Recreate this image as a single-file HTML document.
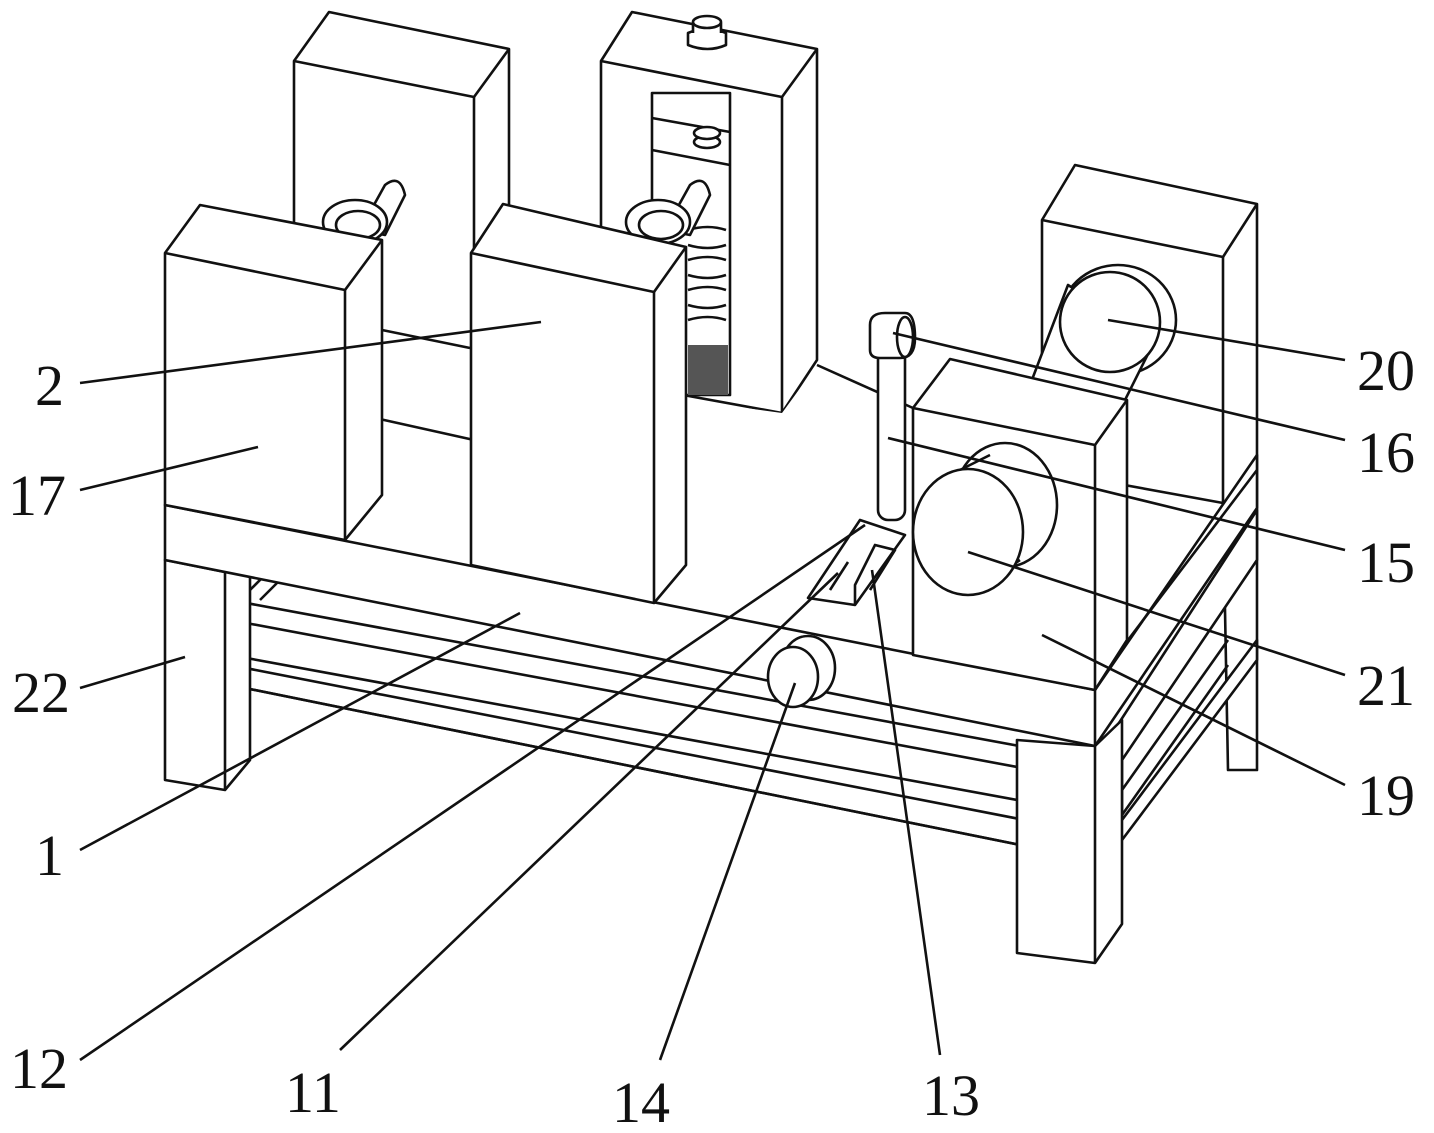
<!DOCTYPE html>
<html><head><meta charset="utf-8"><style>
html,body{margin:0;padding:0;background:#fff}
svg{display:block}
text{font-family:"Liberation Serif",serif;font-size:58px;fill:#111}
</style></head><body>
<svg width="1434" height="1133" viewBox="0 0 1434 1133" xmlns="http://www.w3.org/2000/svg">
<g stroke="#111" stroke-width="2.6" fill="#fff" stroke-linejoin="round">
<!-- back-left block -->
<polygon points="294,61 329,12 509,49 509,400 474,440 294,400"/>
<line x1="294" y1="61" x2="474" y2="97"/><line x1="474" y1="97" x2="509" y2="49"/><line x1="474" y1="97" x2="474" y2="560"/>
<!-- back-right block -->
<polygon points="601,61 632,12 817,49 817,360 782,413 601,380"/>
<line x1="601" y1="61" x2="782" y2="97"/><line x1="782" y1="97" x2="817" y2="49"/><line x1="782" y1="97" x2="782" y2="413"/>
<rect x="652" y="93" width="78" height="302" fill="#fff"/>
<line x1="652" y1="118" x2="730" y2="132"/><line x1="652" y1="150" x2="730" y2="165"/>
<ellipse cx="707" cy="142" rx="13" ry="6"/><ellipse cx="707" cy="133" rx="13" ry="6"/>
<path d="M688,230 q20,-6 38,0 M688,260 q20,-6 38,0 M688,290 q20,-6 38,0 M688,320 q20,-6 38,0 M688,245 q20,6 38,0 M688,275 q20,6 38,0 M688,305 q20,6 38,0" fill="none"/>
<rect x="688" y="345" width="40" height="50" fill="#555" stroke="none"/>
<path d="M688,45 v-12 q18,-8 38,0 v12 q-18,8 -38,0z"/><path d="M693,33 v-10 q15,-8 28,0 v10"/>
<ellipse cx="707" cy="22" rx="14" ry="6"/>
<!-- shafts -->
<path d="M360,230 l25,-45 q15,-12 20,10 l-20,40z"/><ellipse cx="355" cy="222" rx="32" ry="22"/><ellipse cx="358" cy="225" rx="22" ry="14"/>
<path d="M665,230 l25,-45 q15,-12 20,10 l-20,40z"/><ellipse cx="658" cy="222" rx="32" ry="22"/><ellipse cx="661" cy="225" rx="22" ry="14"/>
<!-- block 20 -->
<polygon points="1042,220 1075,165 1257,204 1257,770 1228,770 1223,503 1042,470"/>
<line x1="1042" y1="220" x2="1223" y2="257"/><line x1="1223" y1="257" x2="1257" y2="204"/><line x1="1223" y1="257" x2="1223" y2="503"/>
<ellipse cx="1118" cy="320" rx="58" ry="55"/>
<path d="M1030,385 L1068,285 L1155,340 L1120,410z"/>
<ellipse cx="1110" cy="322" rx="50" ry="50"/>
<!-- frame top surface -->
<polygon points="165,505 345,540 474,560 686,400 782,413 817,365 913,408 1095,445 1095,690" stroke="none"/>
<line x1="817" y1="365" x2="913" y2="408"/>
<!-- stretchers -->
<polygon points="230,600 1095,760 1257,510 1257,560 1122,760 1122,820 1257,640 1257,660 1122,840 1035,822 1035,848 230,685"/>
<line x1="230" y1="620" x2="1017" y2="767"/><line x1="230" y1="655" x2="1017" y2="800"/><line x1="230" y1="665" x2="1035" y2="822"/><line x1="230" y1="685" x2="1035" y2="848"/>
<line x1="1035" y1="822" x2="1035" y2="848"/>
<line x1="1122" y1="790" x2="1228" y2="640"/><line x1="1122" y1="815" x2="1228" y2="665"/>
<line x1="250" y1="590" x2="280" y2="560"/><line x1="260" y1="600" x2="290" y2="570"/>
<!-- left leg -->
<polygon points="165,560 225,572 250,560 250,760 225,790 165,780"/>
<line x1="225" y1="572" x2="225" y2="790"/>
<!-- right front leg -->
<polygon points="1017,740 1095,746 1122,720 1122,924 1095,963 1017,953"/>
<line x1="1095" y1="746" x2="1095" y2="963"/>
<!-- frame beams -->
<polygon points="165,505 1095,690 1257,455 1257,508 1095,746 165,560"/>
<line x1="1095" y1="690" x2="1095" y2="746"/>
<line x1="1128" y1="640" x2="1257" y2="470"/>
<!-- block 17 -->
<polygon points="165,253 200,205 382,240 382,495 345,540 165,505"/>
<line x1="165" y1="253" x2="345" y2="290"/><line x1="345" y1="290" x2="382" y2="240"/><line x1="345" y1="290" x2="345" y2="540"/>
<line x1="382" y1="330" x2="470" y2="348"/>
<!-- block 2 -->
<polygon points="471,253 503,204 686,247 686,565 654,603 471,565"/>
<line x1="471" y1="253" x2="654" y2="292"/><line x1="654" y1="292" x2="686" y2="247"/><line x1="654" y1="292" x2="654" y2="603"/>
<!-- block 19 -->
<polygon points="913,408 950,359 1127,400 1127,640 1095,690 913,655"/>
<line x1="913" y1="408" x2="1095" y2="445"/><line x1="1095" y1="445" x2="1127" y2="400"/><line x1="1095" y1="445" x2="1095" y2="690"/>
<!-- roller 21 -->
<ellipse cx="1005" cy="505" rx="52" ry="62"/>
<path d="M960,470 L990,455 M1020,560 L975,590" fill="none"/>
<ellipse cx="968" cy="532" rx="55" ry="63"/>
<!-- tube 15 / 16 -->
<rect x="878" y="345" width="27" height="175" rx="10"/>
<path d="M870,350 v-25 q0,-12 15,-12 h20 q10,0 10,25 q0,20 -15,20 h-20 q-10,0 -10,-8z"/>
<ellipse cx="905" cy="337" rx="8" ry="20"/>
<!-- plate 11/12/13 -->
<polygon points="808,598 860,520 905,535 855,605"/>
<path d="M855,605 L855,585 L875,545 L895,550 L870,590" fill="none"/>
<line x1="830" y1="590" x2="848" y2="562"/>
<!-- roller 14 -->
<ellipse cx="808" cy="668" rx="27" ry="32"/>
<ellipse cx="793" cy="677" rx="25" ry="30"/>
</g>
<g stroke="#111" stroke-width="2.6" fill="none">
<line x1="80" y1="383" x2="541" y2="322"/>
<line x1="80" y1="490" x2="258" y2="447"/>
<line x1="80" y1="688" x2="185" y2="657"/>
<line x1="80" y1="850" x2="520" y2="613"/>
<line x1="80" y1="1060" x2="865" y2="525"/>
<line x1="340" y1="1050" x2="838" y2="573"/>
<line x1="660" y1="1060" x2="795" y2="683"/>
<line x1="940" y1="1055" x2="872" y2="570"/>
<line x1="1345" y1="360" x2="1108" y2="320"/>
<line x1="1345" y1="440" x2="893" y2="333"/>
<line x1="1345" y1="550" x2="888" y2="438"/>
<line x1="1345" y1="675" x2="968" y2="552"/>
<line x1="1345" y1="785" x2="1042" y2="635"/>
</g>
<text x="35" y="405">2</text>
<text x="8" y="515">17</text>
<text x="12" y="712">22</text>
<text x="35" y="875">1</text>
<text x="10" y="1088">12</text>
<text x="285" y="1112">11</text>
<text x="612" y="1122">14</text>
<text x="922" y="1115">13</text>
<text x="1357" y="390">20</text>
<text x="1357" y="472">16</text>
<text x="1357" y="582">15</text>
<text x="1357" y="705">21</text>
<text x="1357" y="815">19</text>
</svg>
</body></html>
